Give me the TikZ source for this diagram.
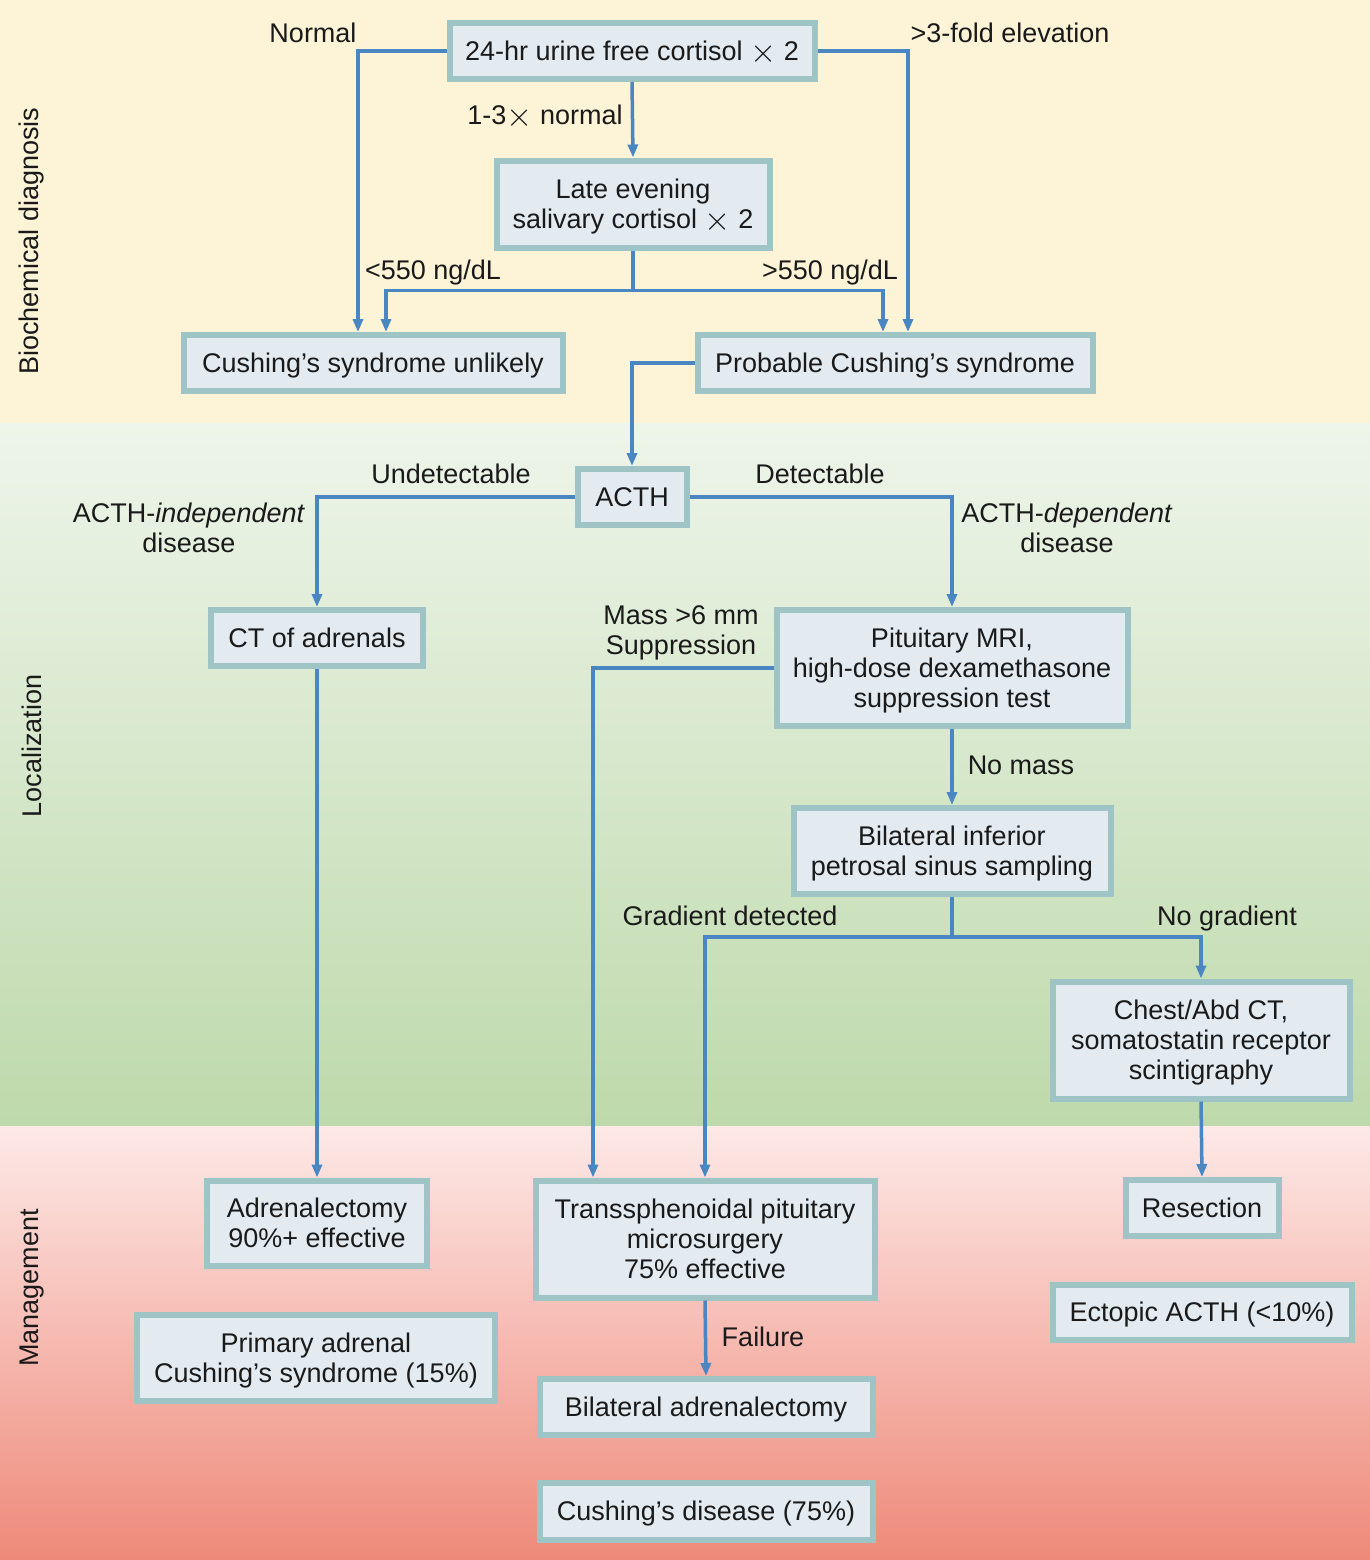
\documentclass[tikz,border=0pt]{standalone}
\usepackage{fontspec}
\setmainfont{Liberation Sans}
\usetikzlibrary{arrows.meta}
\definecolor{bgyellow}{HTML}{FDF4D7}
\definecolor{greentop}{HTML}{EEF5EA}
\definecolor{greenbot}{HTML}{BED9AB}
\definecolor{pinktop}{HTML}{FDE9E7}
\definecolor{pinkbot}{HTML}{EE8979}
\definecolor{boxedge}{HTML}{9EC4C6}
\definecolor{boxfill}{HTML}{E3EBF1}
\definecolor{linecol}{HTML}{4A86C2}
\definecolor{txt}{HTML}{1A1A1A}
\newcommand{\mytimes}{\raisebox{-0.07em}{\scalebox{1.35}{$\times$}}}
\begin{document}
\begin{tikzpicture}[x=1pt,y=-1pt,
  every node/.style={font=\fontsize{27}{30}\selectfont, text=txt},
  box/.style={draw=boxedge, fill=boxfill, line width=6pt, align=center, inner sep=0pt, outer sep=3pt, text depth=0pt},
  lbl/.style={align=center, inner sep=0pt},
  conn/.style={draw=linecol, line width=3.5pt},
  arr/.style={conn, -{Triangle[length=13pt,width=10pt]}}
]
\useasboundingbox (0,0) rectangle (1370,1560);
% backgrounds
\fill[bgyellow] (0,0) rectangle (1370,423);
\shade[top color=greentop, bottom color=greenbot] (0,423) rectangle (1370,1126);
\shade[top color=pinktop, bottom color=pinkbot] (0,1126) rectangle (1370,1560);

% side labels
\node[lbl, rotate=90] (s1) at (32,241) {Biochemical diagnosis};
\node[lbl, rotate=90] (s2) at (32,746) {Localization};
\node[lbl, rotate=90] (s3) at (32,1288) {Management};

% boxes
\node[box, minimum width=365pt, minimum height=56pt] (b1) at (632,51) {24-hr urine free cortisol \mytimes{} 2};
\node[box, minimum width=273pt, minimum height=87pt] (b2) at (633,204) {Late evening\\salivary cortisol \mytimes{} 2};
\node[box, minimum width=379pt, minimum height=56pt] (b3) at (373,363) {Cushing’s syndrome unlikely};
\node[box, minimum width=395pt, minimum height=56pt] (b4) at (895,363) {Probable Cushing’s syndrome};
\node[box, minimum width=109pt, minimum height=56pt] (b5) at (632,497) {ACTH};
\node[box, minimum width=212pt, minimum height=56pt] (b6) at (317,638) {CT of adrenals};
\node[box, minimum width=351pt, minimum height=116pt] (b7) at (952,668) {Pituitary MRI,\\high-dose dexamethasone\\suppression test};
\node[box, minimum width=317pt, minimum height=86pt] (b8) at (952,851) {Bilateral inferior\\petrosal sinus sampling};
\node[box, minimum width=297pt, minimum height=117pt] (b9) at (1201,1040) {Chest/Abd CT,\\somatostatin receptor\\scintigraphy};
\node[box, minimum width=220pt, minimum height=85pt] (b10) at (317,1223) {Adrenalectomy\\90\%+ effective};
\node[box, minimum width=339pt, minimum height=117pt] (b11) at (705,1239) {Transsphenoidal pituitary\\microsurgery\\75\% effective};
\node[box, minimum width=153pt, minimum height=56pt] (b12) at (1202,1208) {Resection};
\node[box, minimum width=358pt, minimum height=86pt] (b13) at (316,1358) {Primary adrenal\\Cushing’s syndrome (15\%)};
\node[box, minimum width=299pt, minimum height=55pt] (b14) at (1202,1312) {Ectopic ACTH (<10\%)};
\node[box, minimum width=333pt, minimum height=56pt] (b15) at (706,1407) {Bilateral adrenalectomy};
\node[box, minimum width=333pt, minimum height=57pt] (b16) at (706,1511) {Cushing’s disease (75\%)};

% labels
\node[lbl] (l1) at (313,33) {Normal};
\node[lbl] (l2) at (1010,33) {>3-fold elevation};
\node[lbl] (l3) at (545,117) {1-3\mytimes{} normal};
\node[lbl] (l4) at (433,273) {<550 ng/dL};
\node[lbl] (l5) at (830,273) {>550 ng/dL};
\node[lbl] (l6) at (451,474) {Undetectable};
\node[lbl] (l7) at (820,474) {Detectable};
\node[lbl] (l8) at (189,528) {ACTH-\textit{independent}\\disease};
\node[lbl] (l9) at (1067,528) {ACTH-\textit{dependent}\\disease};
\node[lbl] (l10) at (681,633) {Mass >6 mm\\Suppression};
\node[lbl] (l11) at (1021,765) {No mass};
\node[lbl] (l12) at (730,916) {Gradient detected};
\node[lbl] (l13) at (1227,919) {No gradient};
\node[lbl] (l14) at (763,1337) {Failure};

% connectors
\draw[arr] (b1.west) -| ([xshift=-15pt]b3.north);
\draw[arr] (b1.east) -| ([xshift=13pt]b4.north);
\draw[arr] (b1.south) -- (b2.north);
\draw[conn] (b2.south) -- ++(0,40) coordinate (j1);
\draw[arr] (j1) -| ([xshift=13pt]b3.north);
\draw[arr] (j1) -| ([xshift=-12pt]b4.north);
\draw[arr] (b4.west) -| (b5.north);
\draw[arr] (b5.west) -| (b6.north);
\draw[arr] (b5.east) -| (b7.north);
\draw[arr] (b6.south) -- (b10.north);
\draw[arr] (b7.west) -| ([xshift=-112pt]b11.north);
\draw[arr] (b7.south) -- (b8.north);
\draw[conn] (b8.south) -- ++(0,40) coordinate (j2);
\draw[arr] (j2) -| (b11.north);
\draw[arr] (j2) -| (b9.north);
\draw[arr] (b9.south) -- (b12.north);
\draw[arr] (b11.south) -- (b15.north);
\end{tikzpicture}
\end{document}
